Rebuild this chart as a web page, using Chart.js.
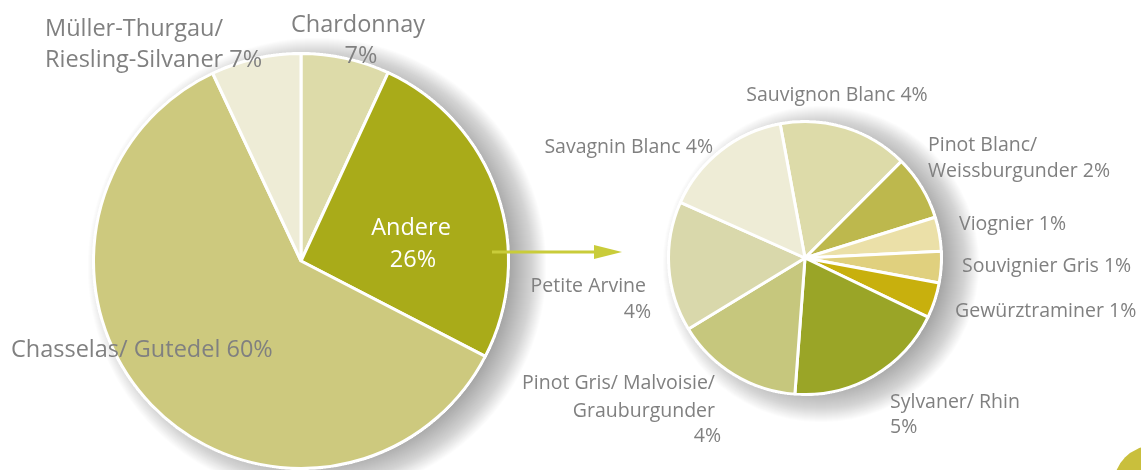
<!DOCTYPE html>
<html>
<head>
<meta charset="utf-8">
<script src="https://cdn.jsdelivr.net/npm/chart.js@4/dist/chart.umd.min.js"></script>
<style>
  html, body { margin: 0; padding: 0; background: #ffffff; overflow: hidden; }
  .box { position: absolute; left: 0; top: 0; width: 1141px; height: 470px; }
</style>
</head>
<body>
<div class="box"><canvas id="main"></canvas></div>
<div class="box"><canvas id="detail"></canvas></div>
<script>
// ---- data ----
const mainCategories = ["Chardonnay", "Andere", "Chasselas/ Gutedel", "Müller-Thurgau/ Riesling-Silvaner"];
const mainValues = [6.9, 25.7, 60.4, 7.0];
const mainColors = ["#dddba9", "#a9ab19", "#cdc97e", "#eeecd6"];

const detailCategories = ["Sauvignon Blanc", "Pinot Blanc/ Weissburgunder", "Viognier", "Souvignier Gris",
  "Gewürztraminer", "Sylvaner/ Rhin", "Pinot Gris/ Malvoisie/ Grauburgunder", "Petite Arvine", "Savagnin Blanc"];
const detailValues = [4.0, 2.0, 1.05, 0.97, 1.09, 4.95, 3.93, 4.0, 4.0];
const detailColors = ["#dddba9", "#bdb84d", "#ebe0a8", "#e0d07e", "#c8b00d", "#9aa527", "#c6c77d", "#d9d8ab", "#eeecd6"];

// label text lines (text only)
const mainLabelLines = [
  ["Müller-Thurgau/", "Riesling-Silvaner 7%"],
  ["Chardonnay", "7%"],
  ["Andere", "26%"],
  ["Chasselas/ Gutedel 60%"]
];
const detailLabelLines = [
  ["Sauvignon Blanc 4%"],
  ["Savagnin Blanc 4%"],
  ["Pinot Blanc/", "Weissburgunder 2%"],
  ["Viognier 1%"],
  ["Souvignier Gris 1%"],
  ["Gewürztraminer 1%"],
  ["Sylvaner/ Rhin", "5%"],
  ["Petite Arvine", "4%"],
  ["Pinot Gris/ Malvoisie/", "Grauburgunder", "4%"]
];

// ---- layout (positions/styles, kept separate from data) ----
const FONT = '"Open Sans", "Noto Sans", sans-serif';
const GREY = '#808080';
const mainLabelLayout = [
  { x: 45, y: [36, 67], align: 'left', color: GREY },
  { x: [358, 361], y: [32, 63], align: 'center', color: GREY },
  { x: [411, 413], y: [235, 267], align: 'center', color: '#ffffff' },
  { x: 11, y: [357], align: 'left', color: GREY }
];
const detailLabelLayout = [
  { x: 837, y: [101], align: 'center' },
  { x: 713, y: [153], align: 'right' },
  { x: 928, y: [151, 177], align: 'left' },
  { x: 959, y: [230], align: 'left' },
  { x: 962, y: [272], align: 'left' },
  { x: 955, y: [317], align: 'left' },
  { x: 890, y: [408, 433], align: 'left' },
  { x: [646, 651], y: [292, 318], align: 'right' },
  { x: [715, 715, 721], y: [389, 417, 442], align: 'right' }
];

function drawLabels(ctx, lines, layout, size) {
  ctx.save();
  ctx.font = size + 'px ' + FONT;
  ctx.textBaseline = 'alphabetic';
  lines.forEach((ls, i) => {
    const L = layout[i];
    ctx.fillStyle = L.color || GREY;
    ctx.textAlign = L.align;
    ls.forEach((t, j) => {
      const x = Array.isArray(L.x) ? L.x[j] : L.x;
      ctx.fillText(t, x, L.y[j]);
    });
  });
  ctx.restore();
}

// soft drop shadow (light from the left): stacked translucent discs painted behind the drawn pie
function drawPieShadow(chart) {
  const a = chart.chartArea;
  if (!a) return;
  const ctx = chart.ctx;
  const pcx = (a.left + a.right) / 2, pcy = (a.top + a.bottom) / 2;
  const R = Math.min(a.right - a.left, a.bottom - a.top) / 2;
  const cx = pcx + 16, cy = pcy + 6;
  ctx.save();
  ctx.globalCompositeOperation = 'destination-over';
  ctx.fillStyle = 'rgba(0,0,0,0.012)';
  for (let r = R - 16; r <= R + 20; r += 1) {
    ctx.beginPath();
    ctx.arc(cx, cy, r, 0, Math.PI * 2);
    ctx.fill();
  }
  ctx.restore();
}

const mainDecor = {
  id: 'mainDecor',
  afterDraw(chart) {
    drawPieShadow(chart);
    const ctx = chart.ctx;
    // arrow
    ctx.save();
    ctx.strokeStyle = '#c9cc3a';
    ctx.fillStyle = '#c9cc3a';
    ctx.lineWidth = 3;
    ctx.beginPath();
    ctx.moveTo(492, 252);
    ctx.lineTo(602, 252);
    ctx.stroke();
    ctx.beginPath();
    ctx.moveTo(594, 245);
    ctx.lineTo(622, 252);
    ctx.lineTo(594, 259);
    ctx.closePath();
    ctx.fill();
    // corner badge
    ctx.fillStyle = '#c9bf3c';
    ctx.beginPath();
    ctx.arc(1152, 484, 38, 0, Math.PI * 2);
    ctx.fill();
    ctx.restore();
    drawLabels(ctx, mainLabelLines, mainLabelLayout, 23.5);
  }
};

const detailDecor = {
  id: 'detailDecor',
  afterDraw(chart) {
    drawPieShadow(chart);
    drawLabels(chart.ctx, detailLabelLines, detailLabelLayout, 19.5);
  }
};

const common = {
  responsive: true,
  maintainAspectRatio: false,
  animation: false,
  events: [],
  plugins: { legend: { display: false }, tooltip: { enabled: false } }
};

new Chart(document.getElementById('main'), {
  type: 'pie',
  data: {
    labels: mainCategories,
    datasets: [{ data: mainValues, backgroundColor: mainColors, borderColor: '#ffffff', borderWidth: 3 }]
  },
  options: Object.assign({}, common, {
    rotation: 0,
    layout: { padding: { left: 92, right: 631, top: 52, bottom: 0 } }
  }),
  plugins: [mainDecor]
});

new Chart(document.getElementById('detail'), {
  type: 'pie',
  data: {
    labels: detailCategories,
    datasets: [{ data: detailValues, backgroundColor: detailColors, borderColor: '#ffffff', borderWidth: 3 }]
  },
  options: Object.assign({}, common, {
    rotation: -10.5,
    layout: { padding: { left: 667, right: 198, top: 120, bottom: 74 } }
  }),
  plugins: [detailDecor]
});
</script>
</body>
</html>
